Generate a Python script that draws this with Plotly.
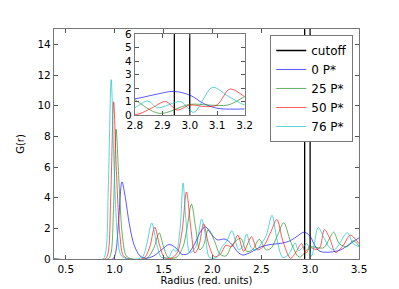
import plotly.graph_objects as go

# ---------------- data ----------------
r_0 = [0.38, 0.98, 1.01, 1.04, 1.075, 1.11, 1.15, 1.2, 1.26, 1.32, 1.4, 1.48, 1.56, 1.63, 1.69,
       1.75, 1.82, 1.88, 1.93, 1.98, 2.05, 2.13, 2.2, 2.26, 2.31, 2.38, 2.5, 2.6, 2.7, 2.8, 2.87,
       2.94, 3.0, 3.05, 3.1, 3.2, 3.31, 3.4, 3.5]
g_0 = [0.0, 0.0, 0.4, 2.4, 5.03, 4.0, 2.3, 0.9, 0.2, 0.05, 0.2, 0.6, 0.95, 0.7, 0.3,
       0.35, 1.0, 1.8, 2.1, 1.7, 1.25, 1.3, 0.95, 0.45, 0.26, 0.4, 0.8, 0.95, 1.02, 1.2, 1.5,
       1.75, 1.48, 0.86, 0.5, 0.45, 0.59, 0.95, 1.38]

r_25 = [0.38, 0.93, 0.96, 0.99, 1.015, 1.045, 1.08, 1.12, 1.18, 1.33, 1.4, 1.456, 1.5, 1.55, 1.63,
        1.7, 1.74, 1.786, 1.83, 1.87, 1.91, 1.96, 2.02, 2.08, 2.14, 2.2, 2.29, 2.35, 2.41, 2.48,
        2.55, 2.6, 2.67, 2.73, 2.8, 2.89, 3.0, 3.07, 3.14, 3.2, 3.24, 3.3, 3.38, 3.44, 3.5]
g_25 = [0.0, 0.0, 0.3, 3.5, 8.47, 5.0, 1.5, 0.2, 0.0, 0.05, 0.7, 1.7, 0.8, 0.1, 0.1,
        0.8, 2.0, 3.58, 2.0, 0.6, 0.9, 1.93, 1.2, 0.3, 0.2, 0.9, 1.35, 0.5, 0.6, 1.28,
        0.6, 0.7, 1.6, 2.37, 1.15, 0.12, 0.79, 0.74, 0.74, 1.36, 1.75, 1.0, 0.8, 1.2, 0.85]

r_50 = [0.38, 0.9, 0.93, 0.96, 0.99, 1.02, 1.055, 1.09, 1.15, 1.3, 1.36, 1.41, 1.46, 1.51, 1.58,
        1.64, 1.69, 1.735, 1.78, 1.82, 1.86, 1.91, 1.96, 2.02, 2.08, 2.14, 2.2, 2.26, 2.32, 2.4,
        2.46, 2.52, 2.6, 2.66, 2.72, 2.8, 2.86, 2.912, 2.955, 3.0, 3.06, 3.1, 3.146, 3.2, 3.26,
        3.34, 3.41, 3.5]
g_50 = [0.0, 0.0, 0.3, 4.0, 10.25, 5.5, 1.5, 0.2, 0.0, 0.05, 0.8, 2.08, 0.9, 0.1, 0.05,
        0.4, 1.8, 4.37, 2.0, 0.4, 0.8, 2.3, 1.0, 0.15, 0.3, 0.9, 0.8, 1.56, 0.5, 1.45,
        0.6, 0.8, 1.8, 2.58, 1.2, 0.05, 0.5, 1.0, 0.37, 0.74, 0.62, 0.75, 1.92, 1.36, 0.43,
        0.9, 1.56, 1.0]

r_76 = [0.38, 0.88, 0.91, 0.935, 0.965, 0.995, 1.03, 1.07, 1.15, 1.28, 1.33, 1.38, 1.43, 1.48,
        1.55, 1.6, 1.63, 1.67, 1.70, 1.73, 1.77, 1.83, 1.89, 1.93, 1.97, 2.04, 2.1, 2.15, 2.2,
        2.27, 2.31, 2.35, 2.4, 2.45, 2.5, 2.55, 2.61, 2.66, 2.72, 2.78, 2.847, 2.883, 2.967,
        3.015, 3.082, 3.14, 3.2, 3.25, 3.3, 3.38, 3.44, 3.5]
g_76 = [0.0, 0.0, 0.5, 4.5, 11.7, 6.0, 1.5, 0.2, 0.0, 0.1, 1.0, 2.35, 1.0, 0.1,
        0.1, 0.63, 0.5, 2.0, 4.95, 2.5, 0.4, 0.8, 2.6, 1.5, 0.1, 0.1, 0.8, 1.2, 1.84,
        0.6, 0.8, 1.63, 0.7, 0.6, 1.0, 1.5, 2.85, 1.3, 0.1, 0.3, 1.04, 0.54, 0.99,
        0.2, 2.05, 1.4, 0.74, 0.6, 1.0, 1.72, 1.0, 0.8]

cutoff = [2.944, 3.0]
series_names = ["0 P*", "25 P*", "50 P*", "76 P*"]
series_colors = ["rgba(0,0,255,0.65)", "rgba(0,128,0,0.6)", "rgba(255,0,0,0.65)", "rgba(0,191,191,0.65)"]
x_ticks = [0.5, 1.0, 1.5, 2.0, 2.5, 3.0, 3.5]
y_ticks = [0, 2, 4, 6, 8, 10, 12, 14]
inset_x_ticks = [2.8, 2.9, 3.0, 3.1, 3.2]
inset_y_ticks = [0, 1, 2, 3, 4, 5, 6]
Y_MAX = 15
INSET_Y_MAX = 6

series = [(r_0, g_0), (r_25, g_25), (r_50, g_50), (r_76, g_76)]

FONT = "DejaVu Sans"
fig = go.Figure()

# cutoff lines (main + inset)
for ax, ymax, show in (("", Y_MAX, True), ("2", INSET_Y_MAX, False)):
    xs, ys = [], []
    for c in cutoff:
        xs += [c, c, None]
        ys += [0, ymax, None]
    fig.add_trace(go.Scatter(x=xs, y=ys, mode="lines", name="cutoff",
                             line=dict(color="black", width=1.3),
                             showlegend=show, xaxis="x" + ax, yaxis="y" + ax,
                             hoverinfo="skip"))

for (rx, gy), nm, col in zip(series, series_names, series_colors):
    fig.add_trace(go.Scatter(x=rx, y=gy, mode="lines", name=nm,
                             line=dict(color=col, width=1, shape="spline", smoothing=0.9),
                             xaxis="x", yaxis="y"))
for (rx, gy), nm, col in zip(series, series_names, series_colors):
    fig.add_trace(go.Scatter(x=rx, y=gy, mode="lines", name=nm, showlegend=False,
                             line=dict(color=col, width=1, shape="spline", smoothing=0.9),
                             xaxis="x2", yaxis="y2"))

axis_common = dict(showgrid=False, zeroline=False, showline=True, mirror="allticks",
                   linecolor="#777777", linewidth=1.2, ticks="inside", ticklen=4,
                   tickcolor="#555555", tickfont=dict(family=FONT, size=10.5, color="black"))

fig.update_layout(
    width=399, height=289,
    margin=dict(l=42, r=48, t=21, b=38),
    paper_bgcolor="white", plot_bgcolor="white",
    font=dict(family=FONT, color="black"),
    xaxis=dict(range=[0.38, 3.5], tickvals=x_ticks, ticktext=[f"{v:.1f}" for v in x_ticks],
               title=dict(text="Radius (red. units)", font=dict(size=10), standoff=3),
               domain=[0, 1], **axis_common),
    yaxis=dict(range=[0, Y_MAX], tickvals=y_ticks,
               title=dict(text="G(r)", font=dict(size=10), standoff=10),
               domain=[0, 1], **axis_common),
    xaxis2=dict(range=[2.8, 3.2], tickvals=inset_x_ticks,
                ticktext=[f"{v:.1f}" for v in inset_x_ticks],
                domain=[0.265, 0.625], anchor="y2", **axis_common),
    yaxis2=dict(range=[0, INSET_Y_MAX], tickvals=inset_y_ticks,
                domain=[0.626, 0.978], anchor="x2", **axis_common),
    legend=dict(x=0.709, y=0.974, xanchor="left", yanchor="top",
                bgcolor="white", bordercolor="#777777", borderwidth=1,
                font=dict(family=FONT, size=12, color="black")),
    showlegend=True,
)

fig.write_html("out.html")
